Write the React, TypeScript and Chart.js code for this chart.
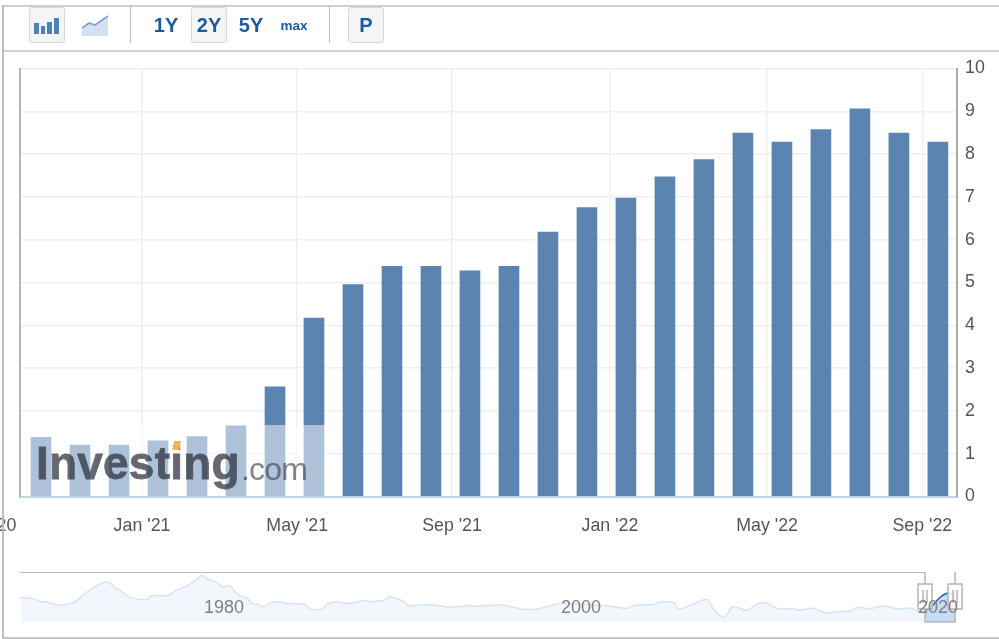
import React, { useEffect, useRef } from "react";
import { Chart, registerables } from "chart.js";

Chart.register(...registerables);

const months = ["Oct '20","Nov '20","Dec '20","Jan '21","Feb '21","Mar '21","Apr '21","May '21","Jun '21","Jul '21","Aug '21","Sep '21","Oct '21","Nov '21","Dec '21","Jan '22","Feb '22","Mar '22","Apr '22","May '22","Jun '22","Jul '22","Aug '22","Sep '22"];
const monthValues = [1.38,1.2,1.2,1.3,1.4,1.65,2.56,4.17,4.95,5.38,5.38,5.27,5.38,6.18,6.75,6.97,7.47,7.87,8.49,8.28,8.57,9.06,8.49,8.28];
const tickPositions = [-1.4,2.59,6.57,10.54,14.59,18.62,22.6];
const tickLabels = ["Sep '20","Jan '21","May '21","Sep '21","Jan '22","May '22","Sep '22"];

const navYears = [1968.6,1969.3,1969.8,1970.1,1970.5,1971.0,1971.3,1971.6,1972.1,1972.8,1973.4,1973.7,1973.9,1974.2,1974.6,1975.3,1975.7,1975.9,1976.8,1977.3,1978.1,1978.8,1979.0,1979.6,1979.9,1980.3,1980.9,1981.2,1981.6,1981.9,1982.1,1982.4,1982.7,1983.3,1983.6,1984.5,1984.8,1985.5,1985.8,1986.3,1986.9,1987.3,1987.8,1988.3,1988.6,1988.9,1989.3,1990.1,1990.4,1990.8,1991.7,1992.7,1993.6,1994.3,1995.6,1996.6,1997.5,1998.8,2000.0,2001.5,2002.6,2003.0,2004.1,2004.3,2005.2,2005.4,2005.9,2006.5,2007.1,2007.4,2008.0,2008.5,2009.3,2009.9,2010.4,2011.0,2011.9,2012.2,2013.0,2013.7,2014.3,2015.1,2015.5,2016.1,2017.0,2017.7,2018.5,2018.8,2019.3];
const navValues = [7.4,6.9,5.5,5.5,4.4,4.1,4.8,5.1,8.4,12.1,14.1,13.2,11.6,10.3,8.0,6.6,6.6,8.2,8.2,10.3,13.2,17.0,15.7,13.8,12.1,12.4,8.0,7.7,4.8,4.5,3.4,4.1,5.5,5.3,4.8,4.5,2.5,2.4,4.8,5.5,4.9,5.1,6.1,5.5,6.0,5.9,7.6,5.5,3.7,4.1,4.2,3.2,3.8,3.7,4.2,2.5,2.4,4.8,4.6,3.7,2.8,4.1,4.4,5.3,5.3,2.5,3.3,5.3,6.6,2.6,-1.3,3.4,1.9,4.7,4.9,2.6,2.6,1.9,2.8,0.8,1.2,1.6,3.2,2.5,3.8,2.5,2.9,1.6,1.2];
const selYears = [2019.27,2019.7,2020.1,2020.5,2020.95];
const selValues = [1.7,4.1,7.4,9.2,9.2];
const navTicks = [1980,2000,2020];

const font = "'Liberation Sans', Arial, sans-serif";

const box = (l: number, t: number, w: number, h: number, extra: React.CSSProperties = {}): React.CSSProperties => ({
  position: "absolute", left: l, top: t, width: w, height: h, ...extra,
});

function Btn({ left, width = 36, active = false, children }: { left: number; width?: number; active?: boolean; children: React.ReactNode }) {
  return (
    <div style={box(left, 7, width, 36, {
      boxSizing: "border-box",
      background: active ? "#f5f5f5" : "transparent",
      border: active ? "1px solid #d8d8d8" : "none",
      borderRadius: 3,
      display: "flex", alignItems: "center", justifyContent: "center",
      color: "#1a5aa5", fontWeight: 700, fontSize: 20, fontFamily: font,
    })}>{children}</div>
  );
}

export default function App() {
  const mainRef = useRef<HTMLCanvasElement>(null);
  const navRef = useRef<HTMLCanvasElement>(null);

  useEffect(() => {
    const main = new Chart(mainRef.current!, {
      type: "bar",
      data: {
        labels: months,
        datasets: [{
          data: monthValues.map((v, i) => ({ x: i, y: v })),
          backgroundColor: "#5b84b1",
          barThickness: 20,
        }],
      },
      options: {
        animation: false,
        responsive: false,
        layout: { padding: { left: 20, top: 68.5, right: 0, bottom: 0 } },
        plugins: { legend: { display: false }, tooltip: { enabled: false } },
        scales: {
          x: {
            type: "linear", offset: false, min: -0.539, max: 23.49,
            afterBuildTicks: (s: any) => { s.ticks = tickPositions.map((value) => ({ value })); },
            afterFit: (s: any) => { s.height = 63.5; s.paddingLeft = 0; s.paddingRight = 0; },
            grid: { color: "#f0f0f0", lineWidth: 1.5, drawTicks: false, offset: false },
            border: { color: "#c3d3e6", width: 2 },
            ticks: {
              autoSkip: false, maxRotation: 0, minRotation: 0, padding: 18.5, color: "#555",
              font: { family: font, size: 17.8 },
              callback: (_v: any, i: number) => tickLabels[i],
            },
          },
          y: {
            position: "right", min: 0, max: 10,
            afterFit: (s: any) => { s.width = 42; },
            grid: { color: "#f0f0f0", lineWidth: 1.5, drawTicks: false },
            border: { color: "#ababab", width: 2 },
            ticks: { stepSize: 1, padding: 8, color: "#555", font: { family: font, size: 17.8 } },
          },
          yLeft: {
            position: "left", min: 0, max: 10,
            afterFit: (s: any) => { s.width = 0; },
            grid: { display: false, drawTicks: false },
            border: { color: "#b5b5b5", width: 2 },
            ticks: { display: false },
          },
        },
      } as any,
    });

    const handles = {
      id: "handles",
      afterDatasetsDraw(c: any) {
        const { ctx, scales } = c;
        const top = c.chartArea.top;
        const bottom = c.chartArea.bottom;
        const xs = [scales.x.getPixelForValue(selYears[0]), scales.x.getPixelForValue(selYears[selYears.length - 1])];
        ctx.save();
        ctx.strokeStyle = "#b5b5b5";
        ctx.lineWidth = 1.5;
        ctx.beginPath();
        ctx.moveTo(xs[0], top + 24);
        ctx.lineTo(xs[0], bottom);
        ctx.lineTo(xs[1], bottom);
        ctx.lineTo(xs[1], top + 24);
        ctx.stroke();
        xs.forEach((x: number) => {
          ctx.beginPath();
          ctx.moveTo(x, top);
          ctx.lineTo(x, top + 12);
          ctx.stroke();
          ctx.fillStyle = "rgba(255,255,255,0.85)";
          ctx.fillRect(x - 7, top + 12, 14, 25);
          ctx.strokeRect(x - 7, top + 12, 14, 25);
          ctx.beginPath();
          ctx.moveTo(x - 2, top + 18); ctx.lineTo(x - 2, top + 31);
          ctx.moveTo(x + 2, top + 18); ctx.lineTo(x + 2, top + 31);
          ctx.stroke();
        });
        ctx.fillStyle = "#808080";
        ctx.font = `18px ${font}`;
        ctx.textAlign = "center";
        ctx.textBaseline = "middle";
        navTicks.forEach((t) => {
          ctx.fillText(String(t), scales.x.getPixelForValue(t), bottom - 14);
        });
        ctx.restore();
      },
    };

    const nav = new Chart(navRef.current!, {
      type: "line",
      data: {
        datasets: [
          {
            data: navYears.map((x, i) => ({ x, y: navValues[i] })),
            borderColor: "#d6e4f3", borderWidth: 1.5, backgroundColor: "#f3f7fd",
            fill: "start", pointRadius: 0, tension: 0.25,
          },
          {
            data: selYears.map((x, i) => ({ x, y: selValues[i] })),
            borderColor: "#1f62ad", borderWidth: 1.5, backgroundColor: "#c6dcf7",
            fill: "start", pointRadius: 0, tension: 0.25,
          },
        ],
      },
      options: {
        animation: false,
        responsive: false,
        layout: { padding: { left: 20, right: 42, top: 12, bottom: 17 } },
        plugins: { legend: { display: false }, tooltip: { enabled: false } },
        scales: {
          x: {
            type: "linear", min: 1968.57, max: 2021.06,
            afterBuildTicks: (s: any) => { s.ticks = navTicks.map((value) => ({ value })); },
            afterFit: (s: any) => { s.height = 0; s.paddingLeft = 0; s.paddingRight = 0; },
            grid: { display: false, drawTicks: false },
            border: { display: false },
            ticks: { display: false },
          },
          y: { display: false, min: -3.15, max: 18.4 },
        },
      } as any,
      plugins: [handles],
    });

    return () => { main.destroy(); nav.destroy(); };
  }, []);

  return (
    <div style={{ position: "fixed", left: 0, top: 0, width: 999, height: 639, overflow: "hidden", background: "#fff" }}>
      <canvas ref={mainRef} width={999} height={560} style={box(0, 0, 999, 560, { display: "block" })} />
      <canvas ref={navRef} width={999} height={79} style={box(0, 560, 999, 79, { display: "block" })} />

      {/* veil under the watermark */}
      <div style={box(21, 425, 304, 70.5, { background: "rgba(255,255,255,0.5)" })} />
      <div style={box(36, 433, 210, 60, { fontFamily: font, fontWeight: 700, fontSize: 46, lineHeight: "60px", color: "#2a2e3a", opacity: 0.72, WebkitTextStroke: "0.8px #2a2e3a", letterSpacing: 0.2, whiteSpace: "nowrap" })}>Investing</div>
      <div style={box(241, 449, 80, 40, { fontFamily: font, fontSize: 32, lineHeight: "40px", letterSpacing: -0.8, color: "#3c424e", opacity: 0.65, whiteSpace: "nowrap" })}>.com</div>
      <div style={box(172, 441, 9, 9, { background: "#f7b64d", clipPath: "polygon(25% 0, 100% 0, 78% 100%, 0 100%)" })} />

      {/* page frame */}
      <div style={box(2, 5, 997, 2, { background: "#cfcfcf" })} />
      <div style={box(2, 5, 2, 633, { background: "#bdbdbd" })} />
      <div style={box(4, 50, 995, 2, { background: "#d2d2d2" })} />
      <div style={box(2, 637, 997, 1.5, { background: "#c4c4c4" })} />
      <div style={box(20, 571.5, 905, 1.5, { background: "#bbb" })} />

      {/* toolbar */}
      <Btn left={28.5} active>
        <svg width="26" height="17" viewBox="0 0 26 17">
          <rect x="0" y="6" width="5" height="11" fill="#4a82bb" />
          <rect x="7" y="9" width="4" height="8" fill="#4a82bb" />
          <rect x="13" y="5" width="5" height="12" fill="#4a82bb" />
          <rect x="20" y="1" width="5" height="16" fill="#4a82bb" />
        </svg>
      </Btn>
      <div style={box(82, 15, 27, 22)}>
        <svg width="27" height="22" viewBox="0 0 27 22">
          <path d="M0 13 L7 8 L13 10 L26 1 L26 21 L0 21 Z" fill="#d5e1f1" />
          <path d="M0 13 L7 8 L13 10 L26 1" fill="none" stroke="#7fa3cf" strokeWidth="1.6" />
        </svg>
      </div>
      <div style={box(130, 6, 1, 37, { background: "#c0c0c0" })} />
      <Btn left={148}>1Y</Btn>
      <Btn left={191} active>2Y</Btn>
      <Btn left={233}>5Y</Btn>
      <div style={box(276, 7, 36, 36, { display: "flex", alignItems: "center", justifyContent: "center", color: "#1a5aa5", fontWeight: 700, fontSize: 13.5, fontFamily: font })}>max</div>
      <div style={box(329, 6, 1, 37, { background: "#c0c0c0" })} />
      <Btn left={348} active>P</Btn>
    </div>
  );
}
